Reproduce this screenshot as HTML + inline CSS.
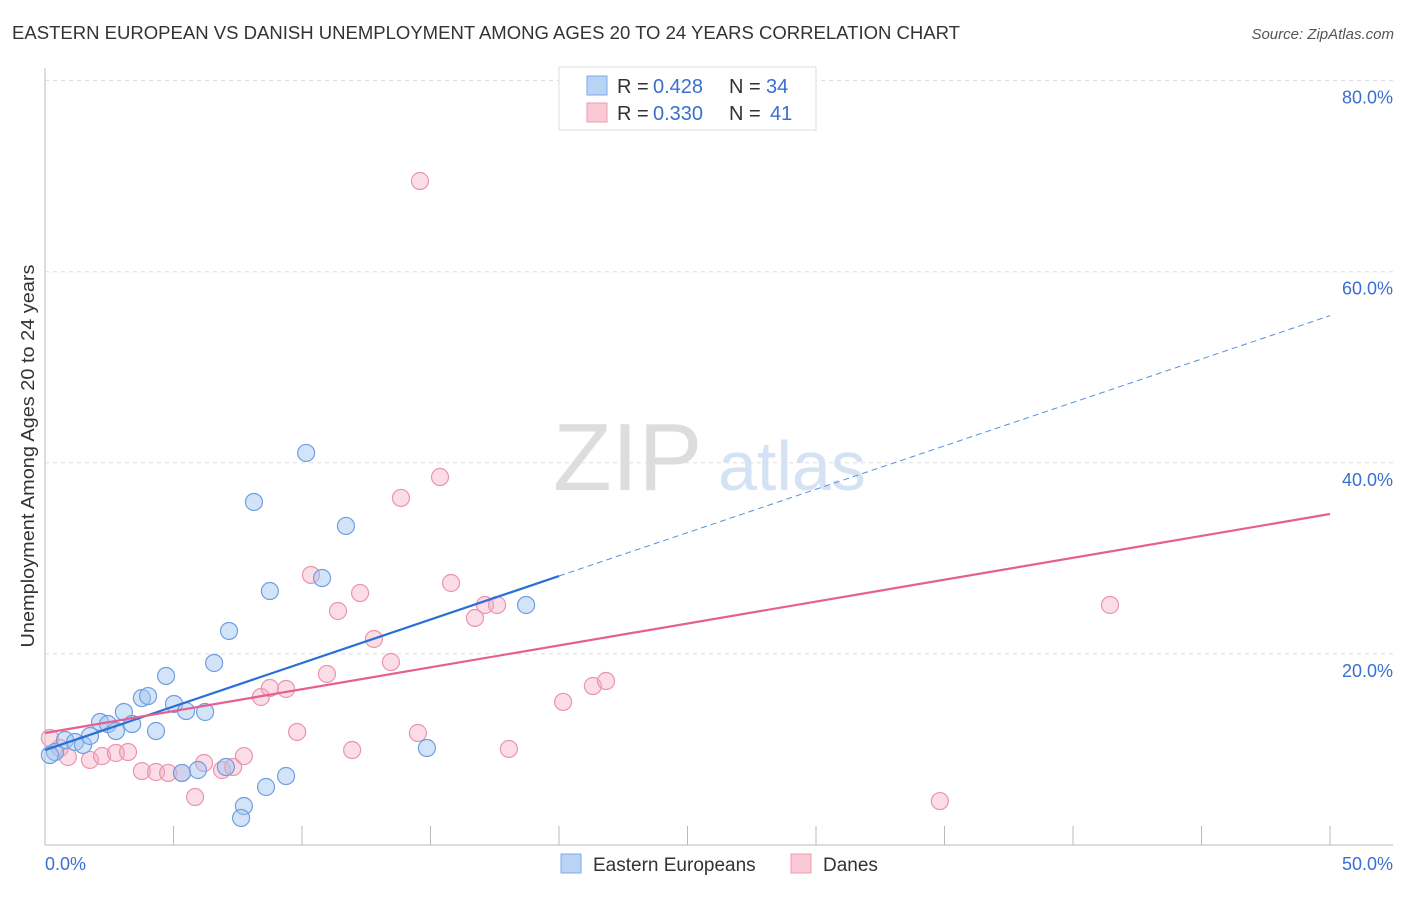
<!DOCTYPE html>
<html><head><meta charset="utf-8">
<style>
body{margin:0;background:#fff;font-family:"Liberation Sans",sans-serif;}
svg text{font-family:"Liberation Sans",sans-serif;}
</style></head>
<body>
<svg id="chart" width="1406" height="892" xmlns="http://www.w3.org/2000/svg">
<text x="12" y="39" font-size="18" fill="#333" textLength="948" lengthAdjust="spacingAndGlyphs">EASTERN EUROPEAN VS DANISH UNEMPLOYMENT AMONG AGES 20 TO 24 YEARS CORRELATION CHART</text>
<text x="1394" y="39" font-size="15" fill="#555" text-anchor="end" font-style="italic">Source: ZipAtlas.com</text>
<g id="grid"></g>
<text x="553" y="490" font-size="96" fill="#ddd" font-family="Liberation Serif">ZIP</text>
<text x="718" y="490" font-size="70" fill="#d4e2f4">atlas</text>
<text transform="translate(34,456) rotate(-90)" font-size="18" fill="#333" text-anchor="middle" textLength="383" lengthAdjust="spacingAndGlyphs">Unemployment Among Ages 20 to 24 years</text>
<g id="marks"></g>
<g id="lines"></g>
<g>
<rect x="559" y="67" width="257" height="63" fill="#fff" stroke="#ddd"/>
<rect x="587" y="76" width="20" height="19" fill="#b9d3f5" stroke="#7faae6"/>
<text x="617" y="93" font-size="20" fill="#333">R =</text>
<text x="653" y="93" font-size="20" fill="#3a6fd0">0.428</text>
<text x="729" y="93" font-size="20" fill="#333">N =</text>
<text x="766" y="93" font-size="20" fill="#3a6fd0">34</text>
<rect x="587" y="103" width="20" height="19" fill="#f9c9d6" stroke="#ec9ab2"/>
<text x="617" y="120" font-size="20" fill="#333">R =</text>
<text x="653" y="120" font-size="20" fill="#3a6fd0">0.330</text>
<text x="729" y="120" font-size="20" fill="#333">N =</text>
<text x="770" y="120" font-size="20" fill="#3a6fd0">41</text>
</g>
<g>
<rect x="561" y="854" width="20" height="19" fill="#b9d3f5" stroke="#7faae6"/>
<text x="593" y="871" font-size="19" fill="#333">Eastern Europeans</text>
<rect x="791" y="854" width="20" height="19" fill="#f9c9d6" stroke="#ec9ab2"/>
<text x="823" y="871" font-size="19" fill="#333">Danes</text>
</g>
</svg>
<script>
const xTicks=[0,5,10,15,20,25,30,35,40,45,50];
const yTicks=[20,40,60,80];
const yTickLabels=["20.0%","40.0%","60.0%","80.0%"];
const xEndLabels=["0.0%","50.0%"];
const blueX=[0.39,0.78,1.17,1.48,1.75,2.14,2.45,2.76,3.07,3.39,3.77,4.01,4.32,4.71,5.02,5.49,6.23,6.58,7.16,8.13,8.75,10.16,10.78,11.71,18.72,14.86,9.38,8.6,7.74,7.63,7.04,5.95,5.33,0.19];
const blueY=[9.73,10.99,10.78,10.47,11.41,12.87,12.66,11.93,13.92,12.66,15.38,15.59,11.93,17.69,14.76,14.02,13.92,19.05,22.4,35.9,26.58,41.03,27.94,33.39,25.12,10.15,7.22,6.07,4.08,2.83,8.16,7.85,7.54,9.42];
const pinkX=[0.19,0.58,0.89,1.75,2.22,2.76,3.23,3.77,4.32,4.79,5.33,5.84,6.19,6.89,7.32,7.74,8.4,8.75,9.38,9.81,10.35,10.97,11.4,12.26,12.8,13.46,11.95,13.85,14.51,14.59,15.37,15.8,16.73,17.12,17.59,18.05,20.16,21.32,21.83,34.82,41.44];
const pinkY=[11.2,10.15,9.21,8.9,9.31,9.63,9.73,7.74,7.64,7.54,7.54,5.02,8.58,7.85,8.16,9.31,15.49,16.43,16.33,11.83,28.26,17.9,24.49,26.37,21.56,19.15,9.94,36.32,11.72,69.49,38.51,27.42,23.76,25.12,25.12,10.05,14.97,16.64,17.16,4.6,25.12];
const blueTrend=[9.94,28.15,55.4]; // at x=0, 20, 50
const pinkTrend=[11.72,34.64]; // at x=0, 50
const NS="http://www.w3.org/2000/svg";
const X=v=>45+v*25.7, Y=v=>845-v*9.555;
function mk(t,a,p){const e=document.createElementNS(NS,t);for(const k in a)e.setAttribute(k,a[k]);p.appendChild(e);return e;}
const grid=document.getElementById('grid');
mk('line',{x1:45,y1:68,x2:45,y2:845,stroke:'#bbb'},grid);
mk('line',{x1:45,y1:845,x2:1393,y2:845,stroke:'#bbb'},grid);
yTicks.forEach((t,i)=>{
 const l=mk('line',{x1:45,y1:Y(t),x2:1393,y2:Y(t),stroke:'#ddd','stroke-dasharray':'4,4'},grid);
 
 const tx=mk('text',{x:1393,y:Y(t)+23,'font-size':18,fill:'#3a6fd0','text-anchor':'end'},grid);
 tx.textContent=yTickLabels[i];
 
});
xTicks.forEach(t=>{if(t===0)return;
 const l=mk('line',{x1:X(t),y1:826,x2:X(t),y2:845,stroke:'#bbb'},grid);
 
});
const xl0=mk('text',{x:45,y:870,'font-size':18,fill:'#3a6fd0'},grid);xl0.textContent=xEndLabels[0];

const xl1=mk('text',{x:1393,y:870,'font-size':18,fill:'#3a6fd0','text-anchor':'end'},grid);xl1.textContent=xEndLabels[1];

const marks=document.getElementById('marks');
pinkX.forEach((v,i)=>{const c=mk('circle',{cx:X(v),cy:Y(pinkY[i]),r:8.5,fill:'rgba(246,170,195,0.4)',stroke:'#eb94ae','stroke-width':1.2},marks);
 });
blueX.forEach((v,i)=>{const c=mk('circle',{cx:X(v),cy:Y(blueY[i]),r:8.5,fill:'rgba(160,195,240,0.45)',stroke:'#6f9fe0','stroke-width':1.2},marks);
 });
const lines=document.getElementById('lines');
const b1=mk('line',{x1:X(0),y1:Y(blueTrend[0]),x2:X(20),y2:Y(blueTrend[1]),stroke:'#2a6fd6','stroke-width':2.2},lines);

const b2=mk('line',{x1:X(20),y1:Y(blueTrend[1]),x2:X(50),y2:Y(blueTrend[2]),stroke:'#5a8fdc','stroke-width':1,'stroke-dasharray':'6,4'},lines);

const p1=mk('line',{x1:X(0),y1:Y(pinkTrend[0]),x2:X(50),y2:Y(pinkTrend[1]),stroke:'#e5608e','stroke-width':2.2},lines);

</script>
</body></html>
